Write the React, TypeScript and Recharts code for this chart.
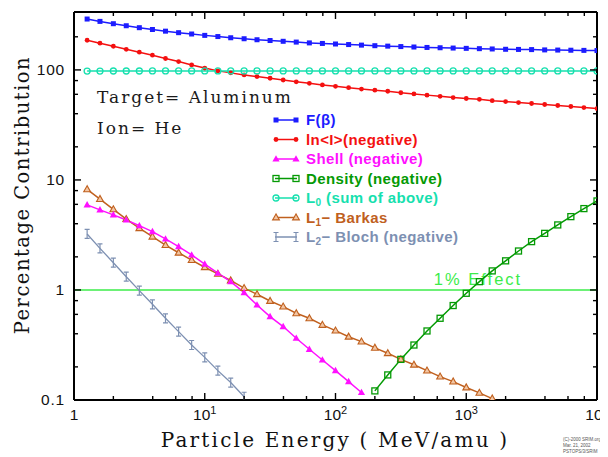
import React from "react";
import { LineChart, Line, XAxis, YAxis, ReferenceLine } from "recharts";

// energies (MeV/amu) where the curves are sampled
const energy = [
  1.26, 1.58, 2.0, 2.51, 3.16, 3.98, 5.01, 6.31, 7.94, 10,
  12.6, 15.8, 20, 25.1, 31.6, 39.8, 50.1, 63.1, 79.4, 100,
  126, 158, 200, 251, 316, 398, 501, 631, 794, 1000,
  1260, 1580, 2000, 2510, 3160, 3980, 5010, 6310, 7940, 10000,
];

// percentage contributions
const fBeta = [
  290, 276, 263, 252, 242, 233, 225, 218, 212, 206,
  201, 196, 192, 188, 185, 182, 179, 176, 174, 172,
  170, 168, 166, 164.5, 163, 161.5, 160, 159, 158, 157,
  156, 155, 154, 153.5, 153, 152, 151.5, 151, 150.5, 150,
];
const lnI = [
  186, 175, 164, 154, 145, 136, 127, 119, 111, 104,
  98, 94, 90, 87, 84, 81, 78, 75.5, 73, 71,
  69, 67, 65.5, 64, 62, 60.5, 59, 57.5, 56, 55,
  54, 52.5, 51.5, 50.5, 49.5, 48.5, 47.5, 46.5, 45.5, 44.5,
];
const shell = [
  5.93, 5.34, 4.81, 4.33, 3.84, 3.39, 2.91, 2.48, 2.08, 1.72,
  1.42, 1.19, 0.946, 0.73, 0.573, 0.465, 0.364, 0.289, 0.231, 0.185,
  0.147, 0.117,
];
const densityStart = 22;
const density = [
  0.121, 0.169, 0.234, 0.316, 0.424, 0.553, 0.722, 0.933, 1.19, 1.49,
  1.84, 2.26, 2.75, 3.27, 3.9, 4.64, 5.49, 6.44,
];
const l0 = [
  97.5, 97.6, 97.7, 97.8, 97.8, 97.9, 97.9, 98, 98, 98,
  98, 98, 98, 98, 98, 98, 98, 98, 98, 98,
  98, 98, 98, 98, 98, 98, 98, 98, 98, 98,
  98, 98, 98, 98, 98, 98, 98, 98, 98, 98,
];
const barkas = [
  8.22, 6.7, 5.4, 4.4, 3.64, 3.05, 2.56, 2.18, 1.87, 1.61,
  1.4, 1.22, 1.04, 0.914, 0.794, 0.705, 0.614, 0.553, 0.481, 0.427,
  0.376, 0.339, 0.298, 0.266, 0.234, 0.209, 0.185, 0.163, 0.147, 0.13,
  0.116, 0.103,
];
const bloch = [
  3.23, 2.39, 1.77, 1.32, 0.987, 0.741, 0.553, 0.418, 0.316, 0.244,
  0.185, 0.144, 0.107,
];

const xTicks = [1, 2, 4, 6, 8, 10, 20, 40, 60, 80, 100, 200, 400, 600, 800, 1000, 2000, 4000, 6000, 8000, 10000];
const yTicks = [0.1, 0.2, 0.4, 0.6, 0.8, 1, 2, 4, 6, 8, 10, 20, 40, 60, 80, 100, 200];
const xLabels: Record<number, [string, string]> = {
  1: ["1", ""],
  10: ["10", "1"],
  100: ["10", "2"],
  1000: ["10", "3"],
  10000: ["10", "4"],
};
const yLabels: Record<number, string> = { 0.1: "0.1", 1: "1", 10: "10", 100: "100" };

const C = {
  blue: "#1c1cff",
  red: "#f41010",
  magenta: "#ff10ff",
  green: "#049a04",
  cyan: "#16e0ae",
  brown: "#c0601e",
  gray: "#7d90b2",
  effect: "#3cec4a",
};

const series = (vals: number[], start = 0) => vals.map((v, i) => ({ e: energy[start + i], v }));

function Marker({ kind, cx, cy, color }: any) {
  if (cx == null || cy == null) return null;
  switch (kind) {
    case "square":
      return <rect x={cx - 2.5} y={cy - 2.5} width={5} height={5} fill={color} />;
    case "dot":
      return <circle cx={cx} cy={cy} r={2.4} fill={color} />;
    case "tri":
      return <polygon points={`${cx},${cy - 3.8} ${cx - 3.6},${cy + 2.6} ${cx + 3.6},${cy + 2.6}`} fill={color} />;
    case "openTri":
      return (
        <polygon
          points={`${cx},${cy - 3.6} ${cx - 3.4},${cy + 2.4} ${cx + 3.4},${cy + 2.4}`}
          fill="#f2c6a4"
          stroke={color}
          strokeWidth={1.1}
        />
      );
    case "openSquare":
      return <rect x={cx - 3} y={cy - 3} width={6} height={6} fill="none" stroke={color} strokeWidth={1.3} />;
    case "openCircle":
      return <circle cx={cx} cy={cy} r={3} fill="none" stroke={color} strokeWidth={1.3} />;
    case "bar":
      return (
        <path
          d={`M${cx - 2.5},${cy - 4.5}H${cx + 2.5}M${cx},${cy - 4.5}V${cy + 4.5}M${cx - 2.5},${cy + 4.5}H${cx + 2.5}`}
          stroke={color}
          strokeWidth={1.2}
          fill="none"
        />
      );
    default:
      return null;
  }
}

const dotOf = (kind: string, color: string) => (p: any) =>
  <Marker key={`m-${p.index}`} kind={kind} cx={p.cx} cy={p.cy} color={color} />;

const tickFont = "'Liberation Sans', Arial, sans-serif";
const serif = "'DejaVu Serif', serif";

function BottomTick({ x, y, payload }: any) {
  const v = payload.value;
  const lab = xLabels[v];
  return (
    <g>
      <line x1={x} x2={x} y1={y} y2={y - (lab ? 7 : 4)} stroke="#000" strokeWidth={1.4} />
      {lab && (
        <text x={x} y={y + 20} textAnchor="middle" fontFamily={tickFont} fontSize={15.5} fill="#111">
          {lab[0]}
          {lab[1] && (
            <tspan dy={-6} fontSize={11}>
              {lab[1]}
            </tspan>
          )}
        </text>
      )}
    </g>
  );
}

function TopTick({ x, y, payload }: any) {
  const major = xLabels[payload.value] != null;
  return <line x1={x} x2={x} y1={y} y2={y + (major ? 7 : 4)} stroke="#000" strokeWidth={1.4} />;
}

function LeftTick({ x, y, payload }: any) {
  const lab = yLabels[payload.value];
  return (
    <g>
      <line x1={x} x2={x + (lab ? 7 : 4)} y1={y} y2={y} stroke="#000" strokeWidth={1.4} />
      {lab && (
        <text x={x - 9} y={y + 5} textAnchor="end" fontFamily={tickFont} fontSize={15.5} letterSpacing={0.8} fill="#111">
          {lab}
        </text>
      )}
    </g>
  );
}

function RightTick({ x, y, payload }: any) {
  const major = yLabels[payload.value] != null;
  return <line x1={x} x2={x - (major ? 7 : 4)} y1={y} y2={y} stroke="#000" strokeWidth={1.4} />;
}

function EffectLabel({ viewBox }: any) {
  return (
    <text
      x={viewBox.x + 404}
      y={viewBox.y - 5}
      textAnchor="middle"
      fontFamily={tickFont}
      fontSize={16.5}
      letterSpacing={2}
      fill={C.effect}
    >
      1% Effect
    </text>
  );
}

const legendRows = [
  { main: "F(β)", sub: "", rest: "", color: C.blue, kind: "square" },
  { main: "ln<I>(negative)", sub: "", rest: "", color: C.red, kind: "dot" },
  { main: "Shell (negative)", sub: "", rest: "", color: C.magenta, kind: "tri" },
  { main: "Density (negative)", sub: "", rest: "", color: C.green, kind: "openSquare" },
  { main: "L", sub: "0", rest: " (sum of above)", color: C.cyan, kind: "openCircle" },
  { main: "L", sub: "1", rest: "\u2212 Barkas", color: C.brown, kind: "openTri" },
  { main: "L", sub: "2", rest: "\u2212 Bloch (negative)", color: C.gray, kind: "bar" },
];

function Overlay() {
  return (
    <svg width={600} height={449} style={{ position: "absolute", left: 0, top: 0, pointerEvents: "none" }}>
      <text x={14} y={187} transform="rotate(-90 14 187)" textAnchor="middle" dominantBaseline="central"
        fontFamily={serif} fontSize={19.5} letterSpacing={1.5} fill="#111">
        Percentage Contribution
      </text>
      <text x={327} y={439} textAnchor="middle" fontFamily={serif} fontSize={20} letterSpacing={2.2} fill="#111">
        Particle Energy ( MeV/amu )
      </text>
      <text x={89} y={95} fontFamily={serif} fontSize={17} letterSpacing={2} fill="#1a1a1a">
        Target= Aluminum
      </text>
      <text x={89} y={126} fontFamily={serif} fontSize={17} letterSpacing={2} fill="#1a1a1a">
        Ion= He
      </text>
      <g transform="translate(258,100)">
        {legendRows.map((r, i) => {
          const cy = 12 + i * 19.5;
          return (
            <g key={r.main + i}>
              <line x1={9} x2={31} y1={cy} y2={cy} stroke={r.color} strokeWidth={1.5} />
              <Marker kind={r.kind} cx={10} cy={cy} color={r.color} />
              <Marker kind={r.kind} cx={30} cy={cy} color={r.color} />
              <text x={40} y={cy + 5} fontFamily={tickFont} fontWeight="bold" fontSize={15}
                letterSpacing={0.4} fill={r.color}>
                {r.main}
                {r.sub && (
                  <tspan dy={3} fontSize={10}>
                    {r.sub}
                  </tspan>
                )}
                {r.rest && <tspan dy={r.sub ? -3 : 0}>{r.rest}</tspan>}
              </text>
            </g>
          );
        })}
      </g>
      <g fontFamily={tickFont} fontSize={4.5} fill="#555">
        <text x={555} y={433}>(C)-2000 SRIM.org</text>
        <text x={555} y={439}>Mar. 21, 2002</text>
        <text x={555} y={445}>PSTOPS/3/SRIM</text>
      </g>
    </svg>
  );
}

const axisLine = { stroke: "#000", strokeWidth: 2 };

export default function App() {
  return (
    <div style={{ position: "relative", width: 600, height: 449, background: "#fff" }}>
      <LineChart width={600} height={449} margin={{ top: 3, right: 10, bottom: 56, left: 65 }}>
        <XAxis
          xAxisId="b"
          dataKey="e"
          type="number"
          scale="log"
          domain={[1, 10000]}
          allowDataOverflow
          ticks={xTicks}
          interval={0}
          height={1}
          tickSize={0}
          tickMargin={0}
          tickLine={false}
          tick={<BottomTick />}
          axisLine={axisLine}
        />
        <XAxis
          xAxisId="t"
          orientation="top"
          dataKey="e"
          type="number"
          scale="log"
          domain={[1, 10000]}
          allowDataOverflow
          ticks={xTicks}
          interval={0}
          height={1}
          tickSize={0}
          tickMargin={0}
          tickLine={false}
          tick={<TopTick />}
          axisLine={axisLine}
        />
        <YAxis
          yAxisId="l"
          type="number"
          scale="log"
          domain={[0.1, 336]}
          allowDataOverflow
          ticks={yTicks}
          interval={0}
          width={1}
          tickSize={0}
          tickMargin={0}
          tickLine={false}
          tick={<LeftTick />}
          axisLine={axisLine}
        />
        <YAxis
          yAxisId="r"
          orientation="right"
          type="number"
          scale="log"
          domain={[0.1, 336]}
          allowDataOverflow
          ticks={yTicks}
          interval={0}
          width={1}
          tickSize={0}
          tickMargin={0}
          tickLine={false}
          tick={<RightTick />}
          axisLine={axisLine}
        />
        <ReferenceLine
          xAxisId="b"
          yAxisId="l"
          y={1}
          stroke={C.effect}
          strokeWidth={1.6}
          label={<EffectLabel />}
        />
        <Line xAxisId="b" yAxisId="l" data={series(fBeta)} dataKey="v" stroke={C.blue} strokeWidth={1.5}
          dot={dotOf("square", C.blue)} activeDot={false} isAnimationActive={false} />
        <Line xAxisId="b" yAxisId="l" data={series(lnI)} dataKey="v" stroke={C.red} strokeWidth={1.5}
          dot={dotOf("dot", C.red)} activeDot={false} isAnimationActive={false} />
        <Line xAxisId="b" yAxisId="l" data={series(l0)} dataKey="v" stroke={C.cyan} strokeWidth={1.5}
          dot={dotOf("openCircle", C.cyan)} activeDot={false} isAnimationActive={false} />
        <Line xAxisId="b" yAxisId="l" data={series(bloch)} dataKey="v" stroke={C.gray} strokeWidth={1.3}
          dot={dotOf("bar", C.gray)} activeDot={false} isAnimationActive={false} />
        <Line xAxisId="b" yAxisId="l" data={series(barkas)} dataKey="v" stroke={C.brown} strokeWidth={1.5}
          dot={dotOf("openTri", C.brown)} activeDot={false} isAnimationActive={false} />
        <Line xAxisId="b" yAxisId="l" data={series(shell)} dataKey="v" stroke={C.magenta} strokeWidth={1.5}
          dot={dotOf("tri", C.magenta)} activeDot={false} isAnimationActive={false} />
        <Line xAxisId="b" yAxisId="l" data={series(density, densityStart)} dataKey="v" stroke={C.green}
          strokeWidth={1.5} dot={dotOf("openSquare", C.green)} activeDot={false} isAnimationActive={false} />
      </LineChart>
      <Overlay />
    </div>
  );
}
